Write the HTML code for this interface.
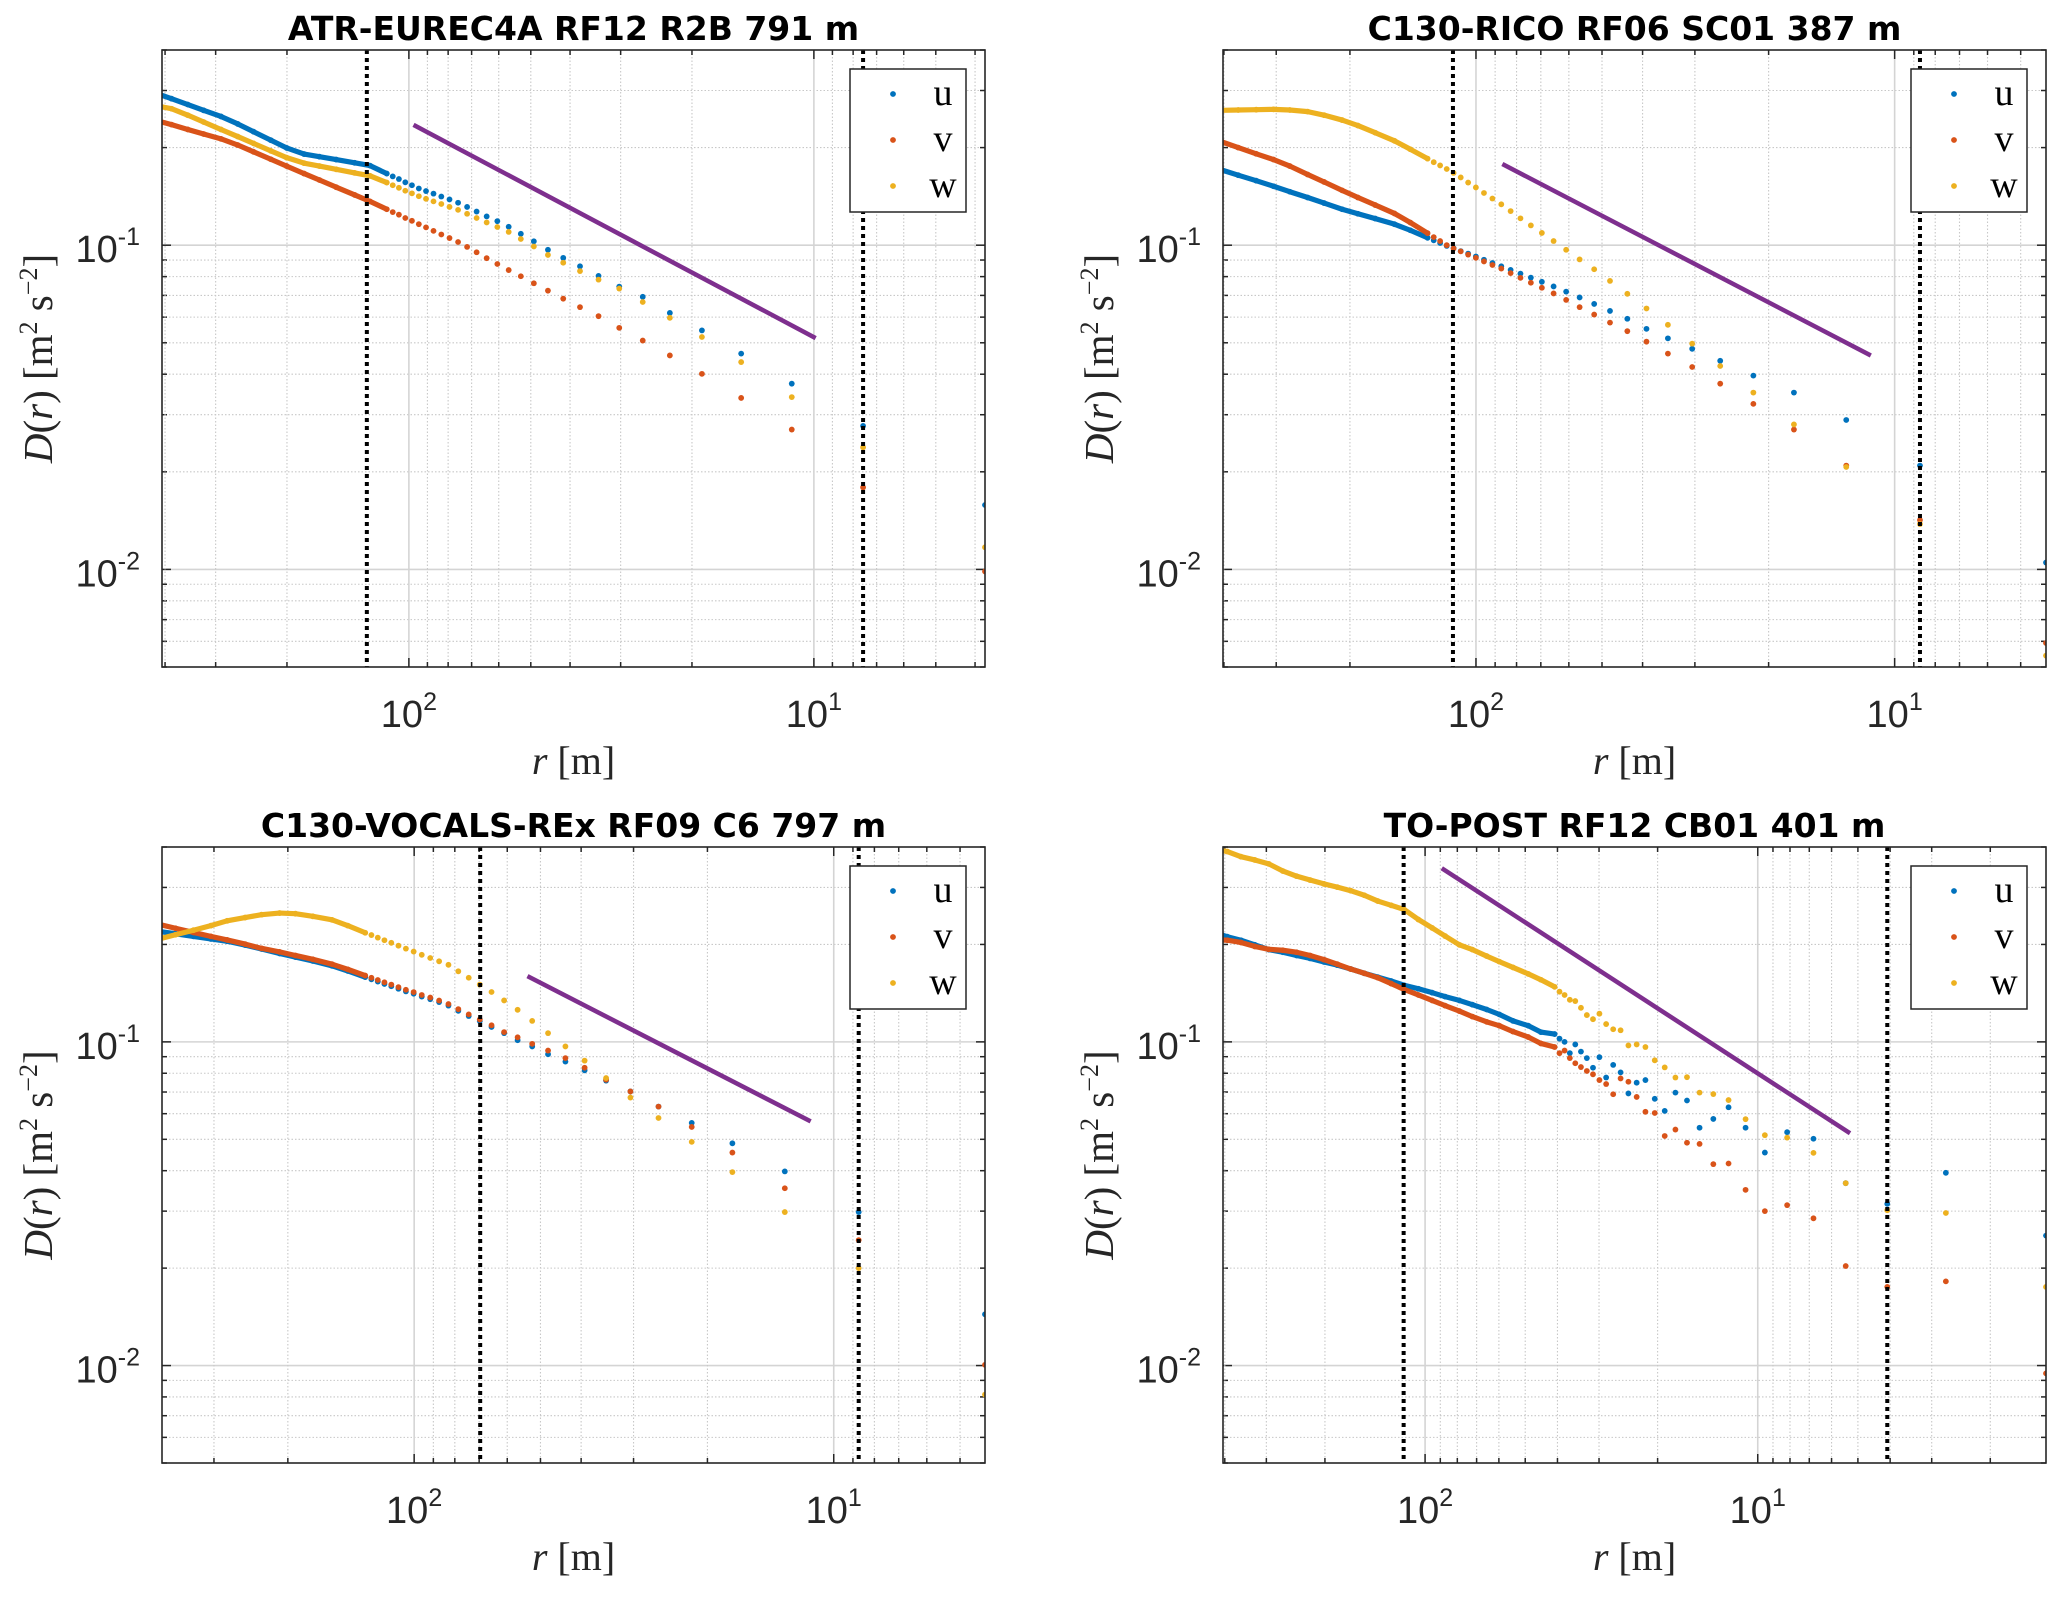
<!DOCTYPE html>
<html><head><meta charset="utf-8">
<style>
html,body{margin:0;padding:0;background:#fff;}
svg{display:block;}
</style></head>
<body>
<svg id="fig" xmlns="http://www.w3.org/2000/svg" width="2067" height="1597" viewBox="0 0 2067 1597">
<rect x="0" y="0" width="2067" height="1597" fill="#fff"/>
</svg>
<script>
// ---------- data ----------
const panelTitles = ["ATR-EUREC4A RF12 R2B 791 m","C130-RICO RF06 SC01 387 m","C130-VOCALS-REx RF09 C6 797 m","TO-POST RF12 CB01 401 m"];
const sampleSpacing = [3.78, 4.35, 4.36, 1.36];
const rMaxLimit = [407, 402, 399, 405];
const yLimits = [0.005, 0.4];
const xTickVals = [100, 10];
const xTickExp = ["2", "1"];
const yTickVals = [0.1, 0.01];
const yTickExp = ["-1", "-2"];
const seriesNames = ["u", "v", "w"];

const idxA = [1,2,3,4,5,6,7,8,9,10,11,12,13,14,15,16,17,18,19,20,21,22,23,24,25,26,27,28,29,30,33,36,40,44,48,53,58,64,70,77,85,93,102,110];
const idxB = [1,2,3,4,5,6,7,8,9,10,11,12,13,14,15,16,17,18,19,20,21,22,23,24,25,26,27,28,29,30,33,36,40,44,48,53,58,64,70,77,85,93];
const idxC = [1,2,3,4,5,6,7,8,9,10,11,12,13,14,15,16,17,18,19,20,21,22,23,24,25,26,27,28,29,30,33,36,40,44,48,53,58,64,70,77,85,93,102,112,123,135,148,163,179,197,217,239,263,289,300];

const p1u = [0.0158,0.0277,0.0374,0.0463,0.0546,0.0618,0.0693,0.0745,0.0804,0.0861,0.0914,0.0968,0.1028,0.1084,0.114,0.1186,0.1227,0.127,0.1312,0.1352,0.1384,0.1413,0.1442,0.1469,0.1496,0.1531,0.1563,0.16,0.163,0.1663,0.176,0.1795,0.1837,0.1875,0.191,0.1995,0.2108,0.2239,0.2366,0.2495,0.2606,0.2716,0.2831,0.2924];
const p1v = [0.00986,0.0179,0.027,0.0338,0.0401,0.0457,0.0508,0.0556,0.0604,0.0644,0.0684,0.0724,0.0763,0.0802,0.0838,0.0875,0.0912,0.0951,0.0988,0.1023,0.1052,0.1079,0.1107,0.1135,0.1161,0.1189,0.1213,0.1242,0.1265,0.1291,0.1365,0.1429,0.151,0.1589,0.1663,0.1754,0.1841,0.1941,0.2037,0.2128,0.2203,0.2275,0.2355,0.2415];
const p1w = [0.0117,0.0238,0.034,0.0436,0.0521,0.0597,0.0668,0.0735,0.0783,0.0832,0.0883,0.0933,0.0991,0.1045,0.1099,0.1138,0.1175,0.1213,0.125,0.1285,0.1312,0.134,0.1365,0.139,0.1416,0.1445,0.1472,0.1503,0.1531,0.156,0.1637,0.1671,0.1714,0.1754,0.1791,0.1862,0.1954,0.2061,0.2163,0.2275,0.2399,0.2518,0.2636,0.2685];

const p2u = [0.0105,0.0209,0.0289,0.0351,0.0396,0.044,0.0479,0.0516,0.0552,0.0593,0.0627,0.0659,0.069,0.0719,0.0746,0.0771,0.0794,0.0817,0.0839,0.0861,0.0881,0.0902,0.0923,0.0942,0.0959,0.098,0.0995,0.1016,0.1035,0.1054,0.1112,0.1161,0.1208,0.125,0.1291,0.1349,0.1403,0.1462,0.152,0.1581,0.1644,0.1706];
const p2v = [0.00593,0.0142,0.0209,0.027,0.0324,0.0374,0.0421,0.0463,0.0504,0.0543,0.0577,0.0611,0.0644,0.0678,0.071,0.0739,0.0766,0.0793,0.082,0.0847,0.0869,0.0891,0.0914,0.0935,0.0957,0.0977,0.1,0.103,0.1059,0.1089,0.1175,0.1253,0.133,0.1403,0.1476,0.1567,0.1652,0.1754,0.1837,0.1914,0.2,0.2084];
const p2w = [0.00542,0.0138,0.0207,0.028,0.0351,0.0424,0.0497,0.0568,0.0638,0.0708,0.0776,0.0843,0.0904,0.0968,0.103,0.1091,0.1151,0.121,0.1274,0.1337,0.1393,0.1449,0.1507,0.156,0.1618,0.1671,0.1718,0.1762,0.1803,0.1849,0.1977,0.2099,0.2223,0.2339,0.2432,0.2518,0.2582,0.2612,0.2624,0.2618,0.2612,0.2606];

const p3u = [0.0144,0.0298,0.0398,0.0486,0.0562,0.0631,0.0703,0.0759,0.0817,0.0869,0.0916,0.0968,0.1012,0.1064,0.1112,0.1159,0.1202,0.1247,0.1294,0.1327,0.1355,0.138,0.1409,0.1432,0.1459,0.1486,0.151,0.1535,0.156,0.1585,0.1656,0.1718,0.1778,0.1828,0.1875,0.1936,0.1991,0.2046,0.208,0.2118,0.2158,0.2193];
const p3v = [0.01005,0.0244,0.0353,0.0455,0.0546,0.0631,0.0703,0.0764,0.0832,0.0891,0.094,0.0986,0.1033,0.1072,0.1125,0.1172,0.1216,0.1262,0.1309,0.1342,0.1371,0.1396,0.1425,0.1449,0.1476,0.1503,0.1528,0.1553,0.1578,0.1603,0.1675,0.1738,0.1799,0.1849,0.1897,0.1945,0.2005,0.2065,0.2118,0.2178,0.2244,0.2307];
const p3w = [0.00813,0.02,0.0298,0.0396,0.0491,0.0582,0.0673,0.0773,0.0875,0.0968,0.1064,0.1161,0.1256,0.1343,0.1426,0.1503,0.1578,0.1652,0.173,0.1774,0.1816,0.1858,0.1901,0.1941,0.1982,0.2023,0.2061,0.2099,0.2138,0.2173,0.2286,0.2382,0.2443,0.2489,0.25,0.2472,0.2421,0.2366,0.2286,0.2213,0.2143,0.208];

const p4u = [0.0252,0.0394,0.0316,0.0366,0.0502,0.0526,0.0455,0.0543,0.0628,0.0578,0.0543,0.0659,0.0697,0.0612,0.0667,0.0762,0.0748,0.0693,0.0805,0.0849,0.0776,0.0897,0.0832,0.0891,0.0933,0.0982,0.0923,0.1,0.1023,0.1057,0.1072,0.1122,0.1161,0.1216,0.1259,0.1303,0.1343,0.138,0.1419,0.1459,0.1496,0.1542,0.1585,0.1629,0.1679,0.1726,0.1766,0.1811,0.1849,0.1892,0.1928,0.1995,0.2061,0.2113,0.2138];
const p4v = [0.00946,0.0182,0.0175,0.0203,0.0285,0.0313,0.03,0.0349,0.0421,0.0419,0.0484,0.0488,0.0536,0.0512,0.0603,0.0608,0.0676,0.0753,0.0771,0.0689,0.0741,0.0762,0.0794,0.0813,0.0836,0.0859,0.0891,0.094,0.0923,0.0964,0.0989,0.1035,0.1076,0.1122,0.1153,0.1197,0.1245,0.1294,0.1343,0.1396,0.1452,0.1514,0.1578,0.1629,0.1679,0.1738,0.1795,0.1849,0.1892,0.1919,0.1932,0.1972,0.2028,0.2061,0.2065];
const p4w = [0.0175,0.0296,0.0302,0.0366,0.0454,0.0506,0.0515,0.0577,0.0661,0.069,0.0697,0.0778,0.0776,0.0834,0.0877,0.0964,0.0982,0.0975,0.1086,0.1094,0.1135,0.1222,0.1175,0.121,0.1274,0.1337,0.1349,0.1396,0.1429,0.1479,0.1556,0.1622,0.1698,0.177,0.1841,0.1928,0.1995,0.2123,0.2249,0.2388,0.2564,0.2642,0.2723,0.2838,0.2931,0.3006,0.3076,0.3162,0.3251,0.3373,0.3548,0.3648,0.3733,0.3873,0.3899];

// reference lines (r in m)
const dottedR = [[127, 7.56], [113.5, 8.7], [69.6, 8.72], [116, 4.08]];
const slopeR = [[97.4, 9.9], [86.5, 11.4], [53.7, 11.35], [89.1, 5.28]];
const slopeD = [[0.235, 0.0517], [0.178, 0.0457], [0.1596, 0.0568], [0.344, 0.0522]];

// ---------- layout ----------
const panelBoxes = [[162,50,823,617],[1223,50,823,617],[162,847,823,616],[1223,847,823,616]];
const idxSets = [idxA, idxB, idxB, idxC];
const seriesData = [[p1u,p1v,p1w],[p2u,p2v,p2w],[p3u,p3v,p3w],[p4u,p4v,p4w]];
const colors = ["#0072BD","#D95319","#EDB120"];
const NS = "http://www.w3.org/2000/svg";
const svg = document.getElementById("fig");
function mk(tag, attrs, parent){ const e=document.createElementNS(NS,tag); for(const k in attrs) e.setAttribute(k, attrs[k]); (parent||svg).appendChild(e); return e; }
const L = Math.log10;

panelBoxes.forEach((box, p) => {
  const [x0,y0,w,h] = box;
  const rMin = sampleSpacing[p], rMax = rMaxLimit[p];
  const xs = r => x0 + w*(L(rMax)-L(r))/(L(rMax)-L(rMin));
  const ys = d => y0 + h*(L(yLimits[1])-L(d))/(L(yLimits[1])-L(yLimits[0]));
  const g = mk("g", {});
  
  
  const clipId = "clip"+p;
  const cp = mk("clipPath", {id: clipId}, g);
  mk("rect", {x:x0, y:y0, width:w, height:h}, cp);

  // grid
  const grid = mk("g", {}, g);
  
  
  for (let e=-3; e<=0; e++) for (let m=1; m<=9; m++) {
    const v = m*Math.pow(10,e);
    if (v < yLimits[0]-1e-9 || v > yLimits[1]+1e-9) continue;
    const y = ys(v);
    mk("line", {x1:x0, x2:x0+w, y1:y, y2:y, stroke: m===1?"#d4d4d4":"#c8c8c8", "stroke-width": m===1?1.6:1.1, "stroke-dasharray": m===1?"none":"1.5 2"}, grid);
    const tl = m===1?9:5;
    mk("line", {x1:x0, x2:x0+tl, y1:y, y2:y, stroke:"#262626","stroke-width":1.5}, grid);
    mk("line", {x1:x0+w, x2:x0+w-tl, y1:y, y2:y, stroke:"#262626","stroke-width":1.5}, grid);
  }
  for (let e=0; e<=3; e++) for (let m=1; m<=9; m++) {
    const v = m*Math.pow(10,e);
    if (v < rMin || v > rMax) continue;
    const x = xs(v);
    mk("line", {x1:x, x2:x, y1:y0, y2:y0+h, stroke: m===1?"#d4d4d4":"#c8c8c8", "stroke-width": m===1?1.6:1.1, "stroke-dasharray": m===1?"none":"1.5 2"}, grid);
    const tl = m===1?9:5;
    mk("line", {x1:x, x2:x, y1:y0+h, y2:y0+h-tl, stroke:"#262626","stroke-width":1.5}, grid);
    mk("line", {x1:x, x2:x, y1:y0, y2:y0+tl, stroke:"#262626","stroke-width":1.5}, grid);
  }

  // data
  const dg = mk("g", {"clip-path":"url(#"+clipId+")"}, g);
  const idx = idxSets[p];
  seriesData[p].forEach((vals, s) => {
    const sg = mk("g", {}, dg);
    
    
    for (let i=0; i<vals.length; i++) {
      const x = xs(idx[i]*rMin), y = ys(vals[i]);
      if (i>0 && idx[i]-idx[i-1] > 1) {
        const ln = mk("line", {x1:xs(idx[i-1]*rMin), y1:ys(vals[i-1]), x2:x, y2:y, stroke:colors[s], "stroke-width":5.2, "stroke-linecap":"round"}, sg);
        
        
      }
      const c = mk("circle", {cx:x, cy:y, r:2.9, fill:colors[s]}, sg);
      
      
    }
  });

  // slope line
  const sl = mk("line", {x1:xs(slopeR[p][0]), y1:ys(slopeD[p][0]), x2:xs(slopeR[p][1]), y2:ys(slopeD[p][1]), stroke:"#7E2F8E", "stroke-width":4.5}, dg);
  
  

  // dotted vertical lines
  dottedR[p].forEach(r => {
    const dl = mk("line", {x1:xs(r), x2:xs(r), y1:y0, y2:y0+h, stroke:"#000", "stroke-width":4, "stroke-dasharray":"4 4"}, dg);
    
    
  });

  // axes box
  const ab = mk("rect", {x:x0, y:y0, width:w, height:h, fill:"none", stroke:"#262626", "stroke-width":1.6}, g);
  
  

  // tick labels
  xTickVals.forEach((v,i) => {
    const t = mk("text", {x:xs(v), y:y0+h+60, "text-anchor":"middle", "font-family":"Liberation Sans, sans-serif", "font-size":38, fill:"#262626"}, g);
    
    
    t.appendChild(document.createTextNode("10"));
    const ts = mk("tspan", {dy:-17, "font-size":25}, t); ts.textContent = xTickExp[i];
  });
  yTickVals.forEach((v,i) => {
    const t = mk("text", {x:x0-22, y:ys(v)+17, "text-anchor":"end", "font-family":"Liberation Sans, sans-serif", "font-size":38, fill:"#262626"}, g);
    
    
    t.appendChild(document.createTextNode("10"));
    const ts = mk("tspan", {dy:-17, "font-size":25}, t); ts.textContent = yTickExp[i];
  });

  // axis labels
  const xl = mk("text", {x:x0+w/2, y:y0+h+107, "text-anchor":"middle", "font-family":"Liberation Serif, serif", "font-size":40, fill:"#262626"}, g);
  
  
  xl.innerHTML = '<tspan font-style="italic">r</tspan> [m]';
  const ylx = x0-110, yly = y0+h/2;
  const yl = mk("text", {x:ylx, y:yly, "text-anchor":"middle", "font-family":"Liberation Serif, serif", "font-size":41, fill:"#262626", transform:"rotate(-90 "+ylx+" "+yly+")"}, g);
  
  
  yl.innerHTML = '<tspan font-style="italic">D</tspan>(<tspan font-style="italic">r</tspan>) [m<tspan dy="-15" font-size="26">2</tspan><tspan dy="15"> s</tspan><tspan dy="-15" font-size="26">−2</tspan><tspan dy="15">]</tspan>';

  // title
  const tt = mk("text", {x:x0+w/2, y:y0-10, "text-anchor":"middle", "font-family":"DejaVu Sans, sans-serif", "font-weight":"bold", "font-size":33, fill:"#000"}, g);
  
  
  tt.textContent = panelTitles[p];

  // legend
  const lx = x0+w-135, ly = y0+19;
  const lg = mk("g", {}, g);
  
  
  mk("rect", {x:lx, y:ly, width:116, height:143, fill:"#fff", stroke:"#262626", "stroke-width":1.5}, lg);
  seriesNames.forEach((nm, s) => {
    const ry = ly + 25 + s*46;
    const en = mk("g", {}, lg);
    
    
    mk("circle", {cx:lx+43, cy:ry, r:2.9, fill:colors[s]}, en);
    const lt = mk("text", {x:lx+93, y:ry+11, "text-anchor":"middle", "font-family":"Liberation Serif, serif", "font-size":38, fill:"#000"}, en);
    lt.textContent = nm;
  });
});
</script>
</body></html>
